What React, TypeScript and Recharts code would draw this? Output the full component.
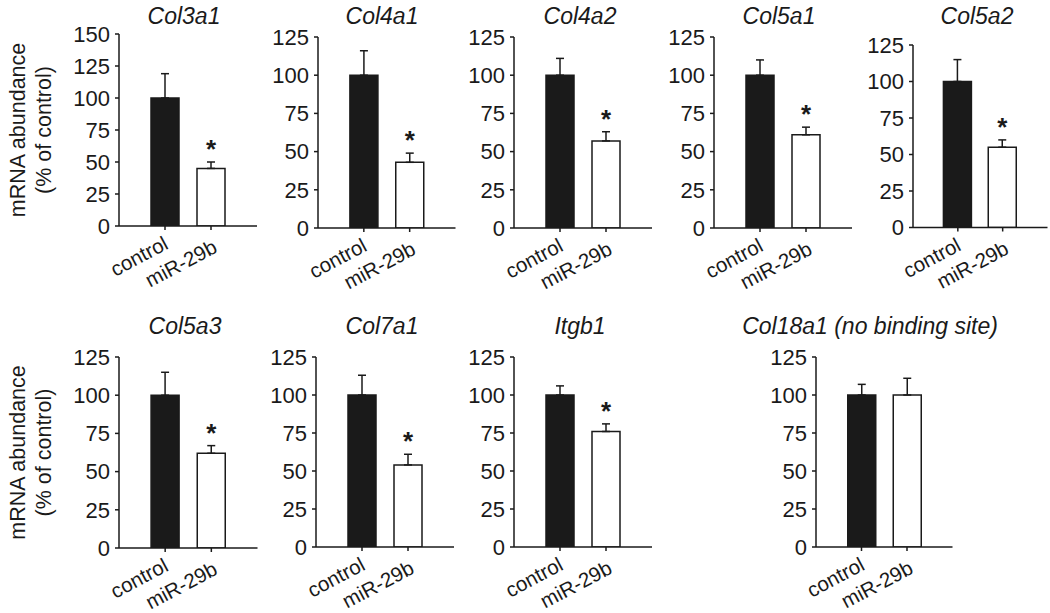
import React from 'react';
import { ComposedChart, Bar, XAxis, YAxis, ErrorBar, Cell, LabelList } from 'recharts';

const FONT = '"Liberation Sans", Arial, Helvetica, sans-serif';
const INK = '#1a1a1a';

// ---- data ----
const genes = ['Col3a1', 'Col4a1', 'Col4a2', 'Col5a1', 'Col5a2', 'Col5a3', 'Col7a1', 'Itgb1', 'Col18a1 (no binding site)'];
const groups = ['control', 'miR-29b'];
const controlMean = [100, 100, 100, 100, 100, 100, 100, 100, 100];
const controlErr = [19, 16, 11, 10, 15, 15, 13, 6, 7];
const mirMean = [45, 43, 57, 61, 55, 62, 54, 76, 100];
const mirErr = [5, 6, 6, 5, 5, 5, 7, 5, 11];
const significant = [true, true, true, true, true, true, true, true, false];
const yMax = [150, 125, 125, 125, 125, 125, 125, 125, 125];
const ticks150 = [0, 25, 50, 75, 100, 125, 150];
const ticks125 = [0, 25, 50, 75, 100, 125];
const yLabelLines = ['mRNA abundance', '(% of control)'];

// ---- layout (page pixel geometry of each panel) ----
const layout = [
  { axisX: 119, axisEnd: 257, top: 34, base: 226, titleX: 184, titleY: 24 },
  { axisX: 317.5, axisEnd: 455, top: 36.5, base: 227.5, titleX: 382, titleY: 24 },
  { axisX: 514, axisEnd: 652, top: 36.5, base: 227.5, titleX: 580, titleY: 24 },
  { axisX: 714, axisEnd: 852, top: 36.5, base: 227.5, titleX: 779, titleY: 24 },
  { axisX: 912.5, axisEnd: 1047, top: 45, base: 227.5, titleX: 977, titleY: 24 },
  { axisX: 118.5, axisEnd: 257, top: 357, base: 548, titleX: 185, titleY: 334 },
  { axisX: 316, axisEnd: 454, top: 356.5, base: 546.5, titleX: 382, titleY: 334 },
  { axisX: 514, axisEnd: 652, top: 356.5, base: 546.5, titleX: 580, titleY: 334 },
  { axisX: 815.5, axisEnd: 952, top: 356.5, base: 546.5, titleX: 870, titleY: 334 },
];
const rowCenters = [130, 452.5];
const TICK_FS = 22;
const XLAB_FS = 20.5;
const TICK_SIZE = 4;
const TICK_MARGIN = 2;

const XTick = (props: any) => {
  const { x, y, payload, index } = props;
  // anchor = end of baseline, relative to the tick point on the axis
  const dx = index === 0 ? 4.5 : 7.5;
  const dy = (index === 0 ? 22 : 25.5) - TICK_SIZE - TICK_MARGIN;
  return (
    <g transform={`translate(${x + dx},${y + dy})`}>
      <text textAnchor="end" transform="rotate(-28)" fontSize={XLAB_FS} fill={INK} fontFamily={FONT}>
        {payload.value}
      </text>
    </g>
  );
};

const StarLabel = (props: any) => {
  const { x, y, width, value } = props;
  if (!value) return null;
  return (
    <text x={Number(x) + Number(width) / 2} y={Number(y) - 4} textAnchor="middle" fontSize={26} fontWeight="bold" fill={INK} fontFamily={FONT}>
      {value}
    </text>
  );
};

function Panel({ i }: { i: number }) {
  const L = layout[i];
  const W = L.axisEnd - L.axisX;
  const H = L.base - L.top;
  const YW = 60, XH = 66, MT = 16, MR = 3;
  const data = [
    { name: groups[0], value: controlMean[i], err: [0, controlErr[i]], gap: controlErr[i], star: '' },
    { name: groups[1], value: mirMean[i], err: [0, mirErr[i]], gap: mirErr[i], star: significant[i] ? '*' : '' },
  ];
  const axisStyle = { stroke: INK, strokeWidth: 1.5 };
  return (
    <div style={{ position: 'absolute', left: L.axisX - YW, top: L.top - MT }}>
      <ComposedChart
        width={YW + W + MR}
        height={MT + H + XH}
        data={data}
        margin={{ top: MT, right: MR, left: 0, bottom: 0 }}
        style={{ overflow: 'visible' }}
      >
        <XAxis
          dataKey="name"
          type="category"
          height={XH}
          padding={{ left: W / 6, right: W / 6 }}
          tick={<XTick />}
          tickSize={TICK_SIZE}
          tickMargin={TICK_MARGIN}
          interval={0}
          axisLine={axisStyle}
          tickLine={axisStyle}
        />
        <YAxis
          width={YW}
          type="number"
          domain={[0, yMax[i]]}
          ticks={yMax[i] === 150 ? ticks150 : ticks125}
          allowDataOverflow
          interval={0}
          tickSize={TICK_SIZE}
          tickMargin={5}
          tick={{ fontSize: TICK_FS, fill: INK, fontFamily: FONT }}
          axisLine={axisStyle}
          tickLine={axisStyle}
        />
        <Bar dataKey="value" stackId="s" barSize={28} isAnimationActive={false} strokeWidth={1.5}>
          {data.map((d, k) => (
            <Cell key={k} fill={k === 0 ? INK : '#ffffff'} stroke={INK} />
          ))}
          <ErrorBar dataKey="err" width={4} strokeWidth={1.5} stroke={INK} direction="y" isAnimationActive={false} />
        </Bar>
        <Bar dataKey="gap" stackId="s" barSize={28} fill="transparent" stroke="none" isAnimationActive={false}>
          <LabelList dataKey="star" content={StarLabel} />
        </Bar>
      </ComposedChart>
    </div>
  );
}

export default function App() {
  return (
    <div
      style={{
        position: 'absolute',
        left: 0,
        top: 0,
        width: 1050,
        height: 613,
        overflow: 'hidden',
        background: '#ffffff',
        fontFamily: FONT,
      }}
    >
      {genes.map((g, i) => (
        <Panel key={g} i={i} />
      ))}
      <svg width={1050} height={613} style={{ position: 'absolute', left: 0, top: 0, pointerEvents: 'none' }}>
        {genes.map((g, i) => (
          <text
            key={g}
            x={layout[i].titleX}
            y={layout[i].titleY}
            textAnchor="middle"
            fontSize={23}
            fontStyle="italic"
            fill={INK}
            fontFamily={FONT}
          >
            {g}
          </text>
        ))}
        {rowCenters.map((cy, r) => (
          <g key={r}>
            <text transform={`translate(25,${cy}) rotate(-90)`} textAnchor="middle" fontSize={21.5} fill={INK} fontFamily={FONT}>
              {yLabelLines[0]}
            </text>
            <text transform={`translate(51,${cy}) rotate(-90)`} textAnchor="middle" fontSize={21.5} fill={INK} fontFamily={FONT}>
              {yLabelLines[1]}
            </text>
          </g>
        ))}
      </svg>
    </div>
  );
}
